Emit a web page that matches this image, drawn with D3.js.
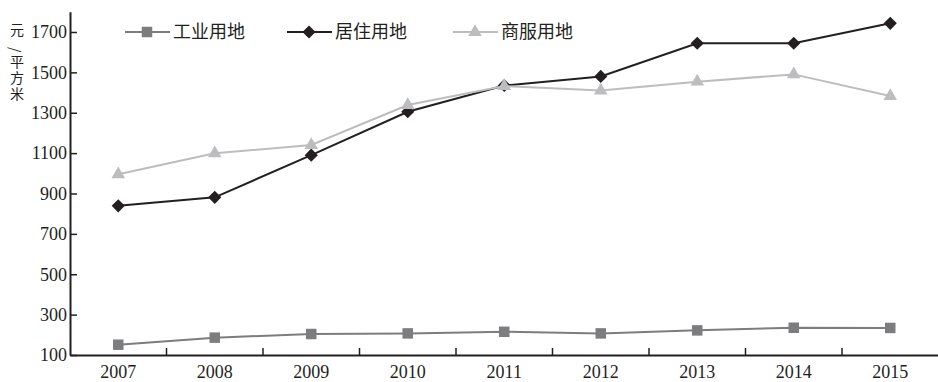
<!DOCTYPE html>
<html>
<head>
<meta charset="utf-8">
<script src="https://cdn.jsdelivr.net/npm/d3@7"></script>
<style>
  body { margin: 0; background: #fff; }
  svg { display: block; }
</style>
</head>
<body>
<div id="chart"></div>
<script>
var width = 938;
var height = 382;

// data
var years = ["2007", "2008", "2009", "2010", "2011", "2012", "2013", "2014", "2015"];
var industrial = [151, 186, 204, 207, 215, 207, 222, 235, 234];
var residential = [839, 881, 1090, 1305, 1435, 1480, 1644, 1644, 1743];
var commercial = [995, 1099, 1140, 1338, 1432, 1410, 1454, 1490, 1383];
var yTicks = [100, 300, 500, 700, 900, 1100, 1300, 1500, 1700];
var yTitle = ["元", "/", "平", "方", "米"];

var series = [
  { name: "工业用地", values: industrial, color: "#7d7d7f", marker: "square", legendX: 125 },
  { name: "居住用地", values: residential, color: "#231f20", marker: "diamond", legendX: 287 },
  { name: "商服用地", values: commercial, color: "#bdbdbf", marker: "triangle", legendX: 453 }
];

var left = 70, bottom = 355;

var x = d3.scaleBand().domain(years).range([left, 938.5]).padding(0);
var y = d3.scaleLinear().domain([100, 1800]).range([bottom, 11.8]);

var svg = d3.select("#chart")
  .append("svg")
  .attr("width", width)
  .attr("height", height);

var serif = "'Liberation Serif', 'DejaVu Serif', serif";
var cjk = "'Noto Sans CJK SC', sans-serif";

// y axis
var yAxis = svg.append("g")
  .attr("transform", "translate(" + left + ",0)")
  .call(d3.axisLeft(y).tickValues(yTicks).tickFormat(d3.format("d"))
    .tickSizeInner(-7).tickSizeOuter(0).tickPadding(3));
yAxis.attr("font-family", serif).attr("font-size", 18);
yAxis.select(".domain").attr("stroke", "#231f20").attr("stroke-width", 2);
yAxis.selectAll(".tick line").attr("stroke", "#231f20").attr("stroke-width", 1.5);
yAxis.selectAll("text").attr("fill", "#231f20");

// x axis
var xAxis = svg.append("g")
  .attr("transform", "translate(0," + bottom + ")")
  .call(d3.axisBottom(x).tickSize(0).tickPadding(10));
xAxis.attr("font-family", serif).attr("font-size", 18);
xAxis.select(".domain").attr("stroke", "#231f20").attr("stroke-width", 2);
xAxis.selectAll("text").attr("fill", "#231f20");

// ticks between categories, pointing up
svg.append("g")
  .selectAll("line")
  .data(years.slice(1))
  .enter().append("line")
  .attr("x1", d => x(d))
  .attr("x2", d => x(d))
  .attr("y1", bottom)
  .attr("y2", bottom - 7)
  .attr("stroke", "#231f20")
  .attr("stroke-width", 1.5);

// y title, one character per row
svg.append("text")
  .attr("text-anchor", "middle")
  .attr("font-family", cjk)
  .attr("font-size", 14)
  .attr("fill", "#231f20")
  .selectAll("tspan")
  .data(yTitle)
  .enter().append("tspan")
  .attr("x", 17)
  .attr("y", (d, i) => 35 + i * 16)
  .attr("rotate", d => d === "/" ? 90 : 0)
  .attr("dx", d => d === "/" ? -4 : 0)
  .attr("dy", d => d === "/" ? -4 : 0)
  .text(d => d);

var symbols = {
  square: d3.symbol().type(d3.symbolSquare).size(110),
  diamond: d3.symbol().type(d3.symbolDiamond2).size(110),
  triangle: d3.symbol().type(d3.symbolTriangle).size(80)
};

var line = d3.line()
  .x((d, i) => x(years[i]) + x.bandwidth() / 2)
  .y(d => y(d));

series.forEach(function(s) {
  svg.append("path")
    .datum(s.values)
    .attr("fill", "none")
    .attr("stroke", s.color)
    .attr("stroke-width", 2)
    .attr("d", line);

  svg.append("g")
    .selectAll("path")
    .data(s.values)
    .enter().append("path")
    .attr("d", symbols[s.marker])
    .attr("transform", (d, i) => "translate(" + (x(years[i]) + x.bandwidth() / 2) + "," + y(d) + ")")
    .attr("fill", s.color);

  // legend
  var lg = svg.append("g").attr("transform", "translate(" + s.legendX + ",32)");
  lg.append("line")
    .attr("x1", 0).attr("x2", 45)
    .attr("stroke", s.color).attr("stroke-width", 2);
  lg.append("path")
    .attr("d", symbols[s.marker])
    .attr("transform", "translate(22,0)")
    .attr("fill", s.color);
  lg.append("text")
    .attr("x", 48)
    .attr("y", 0)
    .attr("dy", "0.35em")
    .attr("font-family", cjk)
    .attr("font-size", 18)
    .attr("fill", "#231f20")
    .text(s.name);
});
</script>
</body>
</html>
